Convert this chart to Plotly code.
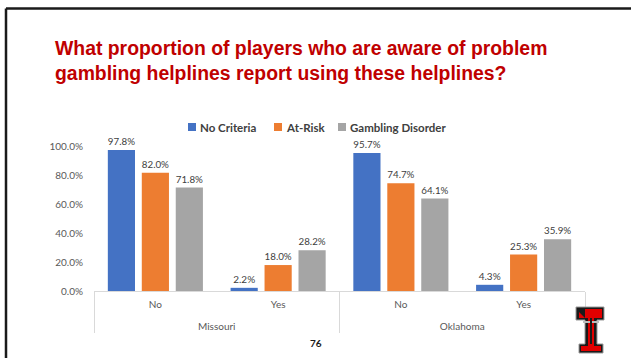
import plotly.graph_objects as go

# Survey results: helpline use among players aware of problem-gambling helplines
states = ["Missouri", "Missouri", "Oklahoma", "Oklahoma"]
answers = ["No", "Yes", "No", "Yes"]
no_criteria = [0.978, 0.022, 0.957, 0.043]
at_risk = [0.820, 0.180, 0.747, 0.253]
gambling_disorder = [0.718, 0.282, 0.641, 0.359]
series_names = ["No Criteria", "At-Risk", "Gambling Disorder"]
series_colors = ["#4472C4", "#ED7D31", "#A5A5A5"]
y_ticks = [0, 0.2, 0.4, 0.6, 0.8, 1.0]
y_tick_labels = ["0.0%", "20.0%", "40.0%", "60.0%", "80.0%", "100.0%"]

W, H = 631, 358
L, R, T, B = 94, 46, 118, 67
PW, PH = W - L - R, H - T - B


def px(x):
    return (x - L) / PW


def py(y):
    return (H - B - y) / PH


BODY = "Lato, 'Open Sans', Arial, sans-serif"

# a short blank line under each answer opens room between the two label rows
spacer = "<br><span style='font-size:6px'>&nbsp;</span>"
answer_labels = [a + spacer for a in answers]

fig = go.Figure()
for name, vals, col in zip(series_names, [no_criteria, at_risk, gambling_disorder], series_colors):
    fig.add_trace(go.Bar(
        name=name,
        x=[states, answer_labels],
        y=vals,
        marker=dict(color=col, line=dict(width=0)),
        text=[f"{v * 100:.1f}%" for v in vals],
        textposition="outside",
        textfont=dict(size=10, color="#404040", family=BODY),
        cliponaxis=False,
        showlegend=False,
    ))

fig.update_layout(
    width=W, height=H,
    margin=dict(l=L, r=R, t=T, b=B),
    paper_bgcolor="white", plot_bgcolor="white",
    barmode="group", bargap=0.17, bargroupgap=0.2,
    font=dict(family=BODY, size=10, color="#595959"),
    xaxis=dict(
        type="multicategory",
        showline=True, linecolor="#D9D9D9", linewidth=1,
        showdividers=True, dividercolor="#D9D9D9", dividerwidth=1,
        tickfont=dict(size=10, color="#595959"),
        showgrid=False, ticks="", ticklabelstandoff=4,
    ),
    yaxis=dict(
        range=[0, 1.2], tickvals=y_ticks, ticktext=y_tick_labels,
        showgrid=False, zeroline=False, showline=False,
        ticks="outside", ticklen=8, tickcolor="rgba(0,0,0,0)",
        tickfont=dict(size=10, color="#595959"),
    ),
)

# legend: colour swatch followed by the series name
legend_x = [188, 274, 338]
for lx, name, col in zip(legend_x, series_names, series_colors):
    fig.add_shape(type="rect", xref="paper", yref="paper",
                  x0=px(lx), x1=px(lx + 8), y0=py(123), y1=py(131),
                  fillcolor=col, line=dict(width=0))
    fig.add_annotation(xref="paper", yref="paper", x=px(lx + 10), y=py(127),
                       xanchor="left", yanchor="middle", text=name, showarrow=False,
                       font=dict(size=11.5, color="#404040", family=BODY, weight="bold"))

# slide frame (top and left edges)
fig.add_shape(type="line", xref="paper", yref="paper", x0=px(6), x1=px(640), y0=py(8.5), y1=py(8.5),
              line=dict(color="#1a1a1a", width=2.5))
fig.add_shape(type="line", xref="paper", yref="paper", x0=px(6), x1=px(6), y0=py(8.5), y1=py(365),
              line=dict(color="#1a1a1a", width=2.5))

# title
fig.add_annotation(
    xref="paper", yref="paper", x=px(53), y=py(35), xanchor="left", yanchor="top",
    text="What proportion of players who are aware of problem<br>gambling helplines report using these helplines?",
    showarrow=False, align="left",
    font=dict(family="'Liberation Sans', Arial, sans-serif", size=19.4, color="#C00000", weight="bold"),
)

# page number
fig.add_annotation(xref="paper", yref="paper", x=px(316), y=py(343), xanchor="center", yanchor="middle",
                   text="76", showarrow=False,
                   font=dict(size=10, color="#1a1a1a", family=BODY, weight="bold"))


# double-T emblem
def path(points):
    return "M " + " L ".join(f"{px(a):.5f},{py(b):.5f}" for a, b in points) + " Z"


outline = [(576, 307), (604, 307), (604, 320), (597, 320), (597, 344), (603, 344), (603, 353),
           (579, 353), (579, 344), (585, 344), (585, 320), (576, 320)]
fig.add_shape(type="path", xref="paper", yref="paper", path=path(outline),
              fillcolor="#1a1a1a", line=dict(color="#9a9a9a", width=1))
red_top = [(579, 309), (602, 309), (602, 318), (579, 318)]
red_stem = [(588, 318), (594, 318), (594, 346), (601, 346), (601, 351), (581, 351), (581, 346),
            (588, 346)]
for shape_pts in (red_top, red_stem):
    fig.add_shape(type="path", xref="paper", yref="paper", path=path(shape_pts),
                  fillcolor="#E00000", line=dict(width=0))
# black bevels on the red faces
fig.add_shape(type="path", xref="paper", yref="paper",
              path=path([(579, 309), (585, 309), (585, 318), (579, 312)]),
              fillcolor="#1a1a1a", line=dict(width=0))
fig.add_shape(type="path", xref="paper", yref="paper",
              path=path([(583, 321), (599, 321), (599, 323), (583, 323)]),
              fillcolor="#bdbdbd", line=dict(width=0))
fig.add_shape(type="path", xref="paper", yref="paper",
              path=path([(590, 318), (592, 318), (592, 344), (590, 344)]),
              fillcolor="#1a1a1a", line=dict(width=0))

fig.write_html("out.html")
